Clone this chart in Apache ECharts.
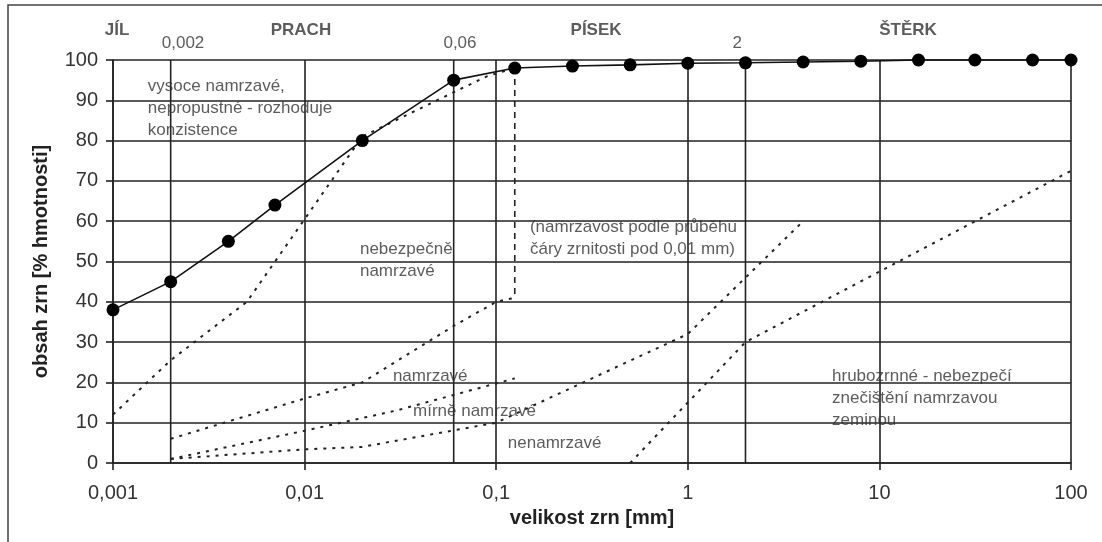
<!DOCTYPE html>
<html>
<head>
<meta charset="utf-8">
<script src="https://cdn.jsdelivr.net/npm/echarts@6/dist/echarts.min.js"></script>
<style>
  html, body { margin: 0; padding: 0; background: #fff; }
  #chart { width: 1102px; height: 542px; }
</style>
</head>
<body>
<div id="chart"></div>
<script>
// grain size curve (velikost zrn [mm] -> obsah zrn [%])
const sizes = [0.001, 0.002, 0.004, 0.007, 0.02, 0.06, 0.125, 0.25, 0.5, 1, 2, 4, 8, 16, 31.5, 63, 100]
const passing = [38, 45, 55, 64, 80, 95, 98, 98.5, 98.8, 99.2, 99.3, 99.5, 99.7, 100, 100, 100, 100]

// frost susceptibility boundaries (dotted)
const dangerX = [0.001, 0.002, 0.005, 0.02, 0.06, 0.09, 0.125]
const dangerY = [12, 25.5, 40, 81, 92, 96, 98]
const frostX = [0.002, 0.01, 0.02, 0.06, 0.1, 0.125]
const frostY = [6, 16, 20, 34, 40, 41]
const mildX = [0.002, 0.01, 0.03, 0.125]
const mildY = [1, 8, 13, 21]
const noFrostX = [0.002, 0.01, 0.02, 0.1, 1, 4]
const noFrostY = [1, 3.4, 4, 10, 32, 60]
const coarseX = [0.5, 2, 100]
const coarseY = [0, 30, 72.5]
const cutX = [0.125, 0.125]
const cutY = [98, 41]

// fraction limits
const limits = [0.002, 0.06, 2]
const limitLabels = ['0,002', '0,06', '2']
const limitLabelX = [0.00232, 0.0647, 1.81]

// fraction names
const fractions = ['JÍL', 'PRACH', 'PÍSEK', 'ŠTĚRK']
const fractionX = [0.00105, 0.00957, 0.332, 14.1]

// notes in the plot
const notes = [
  'vysoce namrzavé,\nnepropustné - rozhoduje\nkonzistence',
  'nebezpečně\nnamrzavé',
  '(namrzavost podle průběhu\nčáry zrnitosti pod 0,01 mm)',
  'namrzavé',
  'mírně namrzavé',
  'nenamrzavé',
  'hrubozrnné - nebezpečí\nznečištění namrzavou\nzeminou'
]
const noteX = [0.00152, 0.01945, 0.15, 0.0289, 0.0368, 0.115, 5.66]
const noteY = [96.3, 55.8, 61.3, 24.3, 15.6, 7.7, 24.3]

const zip = (xs, ys) => xs.map((x, i) => [x, ys[i]])
const font = '"Liberation Sans", Arial, sans-serif'
const ink = '#222'

const dotted = (name, xs, ys) => ({
  name,
  type: 'line',
  data: zip(xs, ys),
  symbol: 'none',
  silent: true,
  clip: false,
  lineStyle: { color: ink, width: 2, type: [3, 6] },
  z: 3
})

const chart = echarts.init(document.getElementById('chart'))
chart.setOption({
  animation: false,
  backgroundColor: '#fff',
  textStyle: { fontFamily: font },
  grid: { left: 113, right: 31, top: 60, bottom: 79 },
  graphic: [{
    type: 'rect',
    shape: { x: 8, y: 5, width: 1110, height: 560 },
    style: { fill: null, stroke: '#444', lineWidth: 1.5 },
    silent: true
  }],
  xAxis: {
    type: 'log',
    logBase: 10,
    min: 0.001,
    max: 100,
    name: 'velikost zrn [mm]',
    nameLocation: 'middle',
    nameGap: 45,
    nameTextStyle: { fontSize: 20, fontWeight: 'bold', color: ink, fontFamily: font },
    axisLine: { show: true, lineStyle: { color: ink, width: 1.6 } },
    axisTick: { show: true, length: 7, lineStyle: { color: ink, width: 1.6 } },
    axisLabel: {
      fontSize: 20,
      color: '#333',
      margin: 20,
      fontFamily: font,
      formatter: v => String(+Number(v).toPrecision(1)).replace('.', ',')
    },
    splitLine: { show: true, lineStyle: { color: ink, width: 1.6 } },
    minorTick: { show: false }
  },
  yAxis: {
    type: 'value',
    min: 0,
    max: 100,
    interval: 10,
    name: 'obsah zrn [% hmotnosti]',
    nameLocation: 'middle',
    nameGap: 62,
    nameTextStyle: { fontSize: 20, fontWeight: 'bold', color: ink, fontFamily: font },
    axisLine: { show: true, lineStyle: { color: ink, width: 1.6 } },
    axisTick: { show: true, length: 7, lineStyle: { color: ink, width: 1.6 } },
    axisLabel: { fontSize: 20, color: '#333', margin: 15, fontFamily: font },
    splitLine: { show: true, lineStyle: { color: ink, width: 1.6 } }
  },
  series: [
    // fraction limit lines
    ...limits.map(x => ({
      type: 'line',
      data: [[x, 0], [x, 100]],
      symbol: 'none',
      silent: true,
      lineStyle: { color: ink, width: 1.6 },
      z: 2
    })),
    {
      type: 'line',
      data: zip(cutX, cutY),
      symbol: 'none',
      silent: true,
      lineStyle: { color: ink, width: 1.6, type: [6, 5] },
      z: 3
    },
    dotted('nebezpečně namrzavé', dangerX, dangerY),
    dotted('namrzavé', frostX, frostY),
    dotted('mírně namrzavé', mildX, mildY),
    dotted('nenamrzavé', noFrostX, noFrostY),
    dotted('hrubozrnné', coarseX, coarseY),
    {
      name: 'čára zrnitosti',
      type: 'line',
      data: zip(sizes, passing),
      symbol: 'circle',
      symbolSize: 13,
      clip: false,
      itemStyle: { color: '#000' },
      lineStyle: { color: '#111', width: 1.6 },
      z: 5
    },
    // text labels placed in data space
    {
      type: 'scatter',
      symbolSize: 0,
      clip: false,
      silent: true,
      data: notes.map((t, i) => ({ value: [noteX[i], noteY[i]], name: t })),
      label: {
        show: true,
        position: [0, 0],
        align: 'left',
        verticalAlign: 'top',
        formatter: p => p.name,
        fontSize: 17,
        lineHeight: 22,
        color: '#333',
        fontFamily: font
      },
      z: 6
    },
    {
      type: 'scatter',
      symbolSize: 0,
      clip: false,
      silent: true,
      data: fractions.map((t, i) => ({ value: [fractionX[i], 107.4], name: t })),
      label: {
        show: true,
        position: [0, 0],
        align: 'center',
        verticalAlign: 'middle',
        formatter: p => p.name,
        fontSize: 17,
        fontWeight: 'bold',
        color: '#333',
        fontFamily: font
      },
      z: 6
    },
    {
      type: 'scatter',
      symbolSize: 0,
      clip: false,
      silent: true,
      data: limitLabels.map((t, i) => ({ value: [limitLabelX[i], 104.2], name: t })),
      label: {
        show: true,
        position: [0, 0],
        align: 'center',
        verticalAlign: 'middle',
        formatter: p => p.name,
        fontSize: 17,
        color: '#333',
        fontFamily: font
      },
      z: 6
    }
  ]
})
</script>
</body>
</html>
